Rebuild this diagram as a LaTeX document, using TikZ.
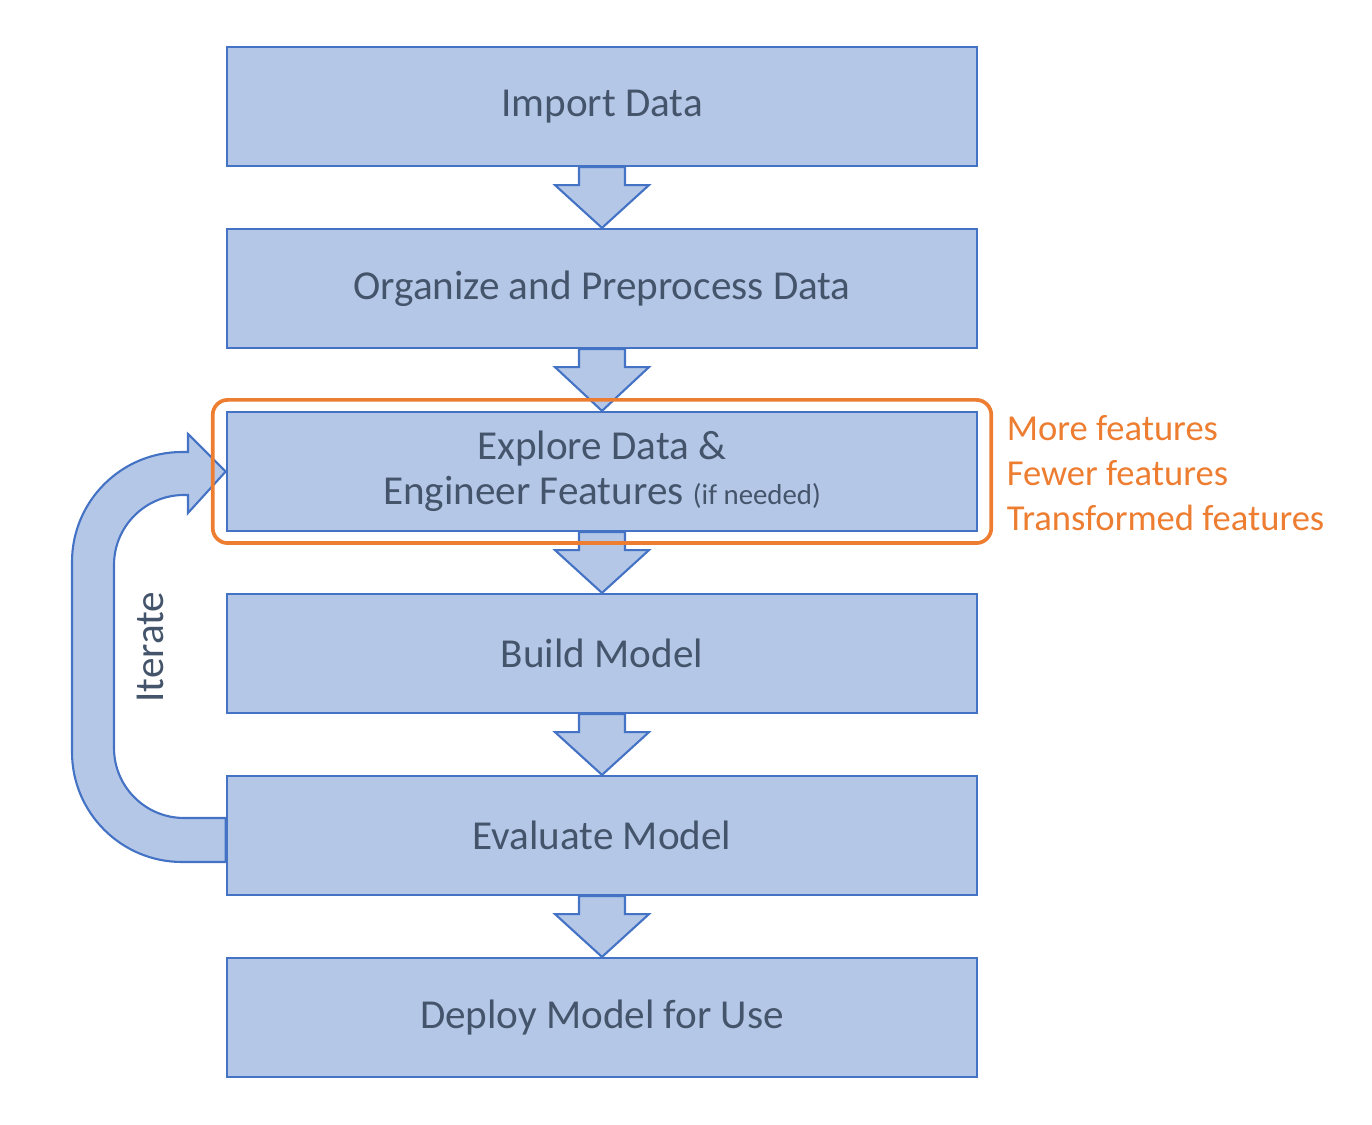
\documentclass[tikz,border=0pt]{standalone}
\usepackage{fontspec}
\setmainfont{Carlito}
\usetikzlibrary{calc,fit}
\definecolor{boxfill}{HTML}{B4C7E7}
\definecolor{boxline}{HTML}{4472C4}
\definecolor{boxtext}{HTML}{44546A}
\definecolor{accent}{HTML}{ED7D31}
\tikzset{
  stage/.style={draw=boxline, line width=0.6pt, fill=boxfill, minimum width=7.5cm,
                minimum height=1.19cm, text=boxtext, align=center, inner sep=0pt,
                font=\fontsize{11.7}{12.8}\selectfont},
  flow/.style={draw=boxline, line width=0.6pt, fill=boxfill, line join=miter},
  hilite/.style={draw=accent, line width=1.05pt, rounded corners=0.15cm,
                 inner xsep=0.13cm, inner ysep=0.11cm},
  note/.style={text=accent, align=left, inner sep=0pt,
               font=\fontsize{10.4}{12.8}\selectfont},
}

\begin{document}
\begin{tikzpicture}[x=0.01cm, y=-0.01cm]
\useasboundingbox (0,0) rectangle (1372,1125);

% --- stages ---
\node[stage] (imp)    at (602,106.5)  {Import Data};
\node[stage] (org)    at (602,288.5)  {Organize and Preprocess Data};
\node[stage] (expl)   at (602,471.5)  {Explore Data \&\\Engineer Features {\fontsize{8.2}{10}\selectfont(if needed)}};
\node[stage] (build)  at (602,653.5)  {Build Model};
\node[stage] (eval)   at (602,835.5)  {Evaluate Model};
\node[stage] (deploy) at (602,1017.5) {Deploy Model for Use};

% --- block arrows ---
\foreach \a/\b in {imp/org, org/expl, expl/build, build/eval, eval/deploy} {
  \draw[flow] ($(\a.south)+(-23,0)$) -- ++(0,18) -- ++(-24,0) -- (\b.north)
    -- ($(\a.south)+(47,18)$) -- ++(-24,0) -- ($(\a.south)+(23,0)$) -- cycle;
}

% --- iterate loop ---
\draw[flow] ($(eval.west)+(0,-17.5)$) -- (184,818) arc[start angle=90, end angle=180, radius=70]
  -- (114,565) arc[start angle=180, end angle=270, radius=70]
  -- (188,495) -- (188,513) -- (expl.west) -- (188,434) -- (188,452)
  -- (182,452) arc[start angle=270, end angle=180, radius=110]
  -- (72,752) arc[start angle=180, end angle=90, radius=110]
  -- ($(eval.west)+(0,26.5)$) -- cycle;
\node[rotate=90, text=boxtext, font=\fontsize{11.7}{12.8}\selectfont] (itlbl) at (150,647) {Iterate};

% --- feature engineering highlight ---
\node[hilite, fit=(expl)] (hl) {};
\node[note, anchor=west] (feat) at ($(hl.east)+(13,2)$) {More features\\Fewer features\\Transformed features};
\end{tikzpicture}
\end{document}
